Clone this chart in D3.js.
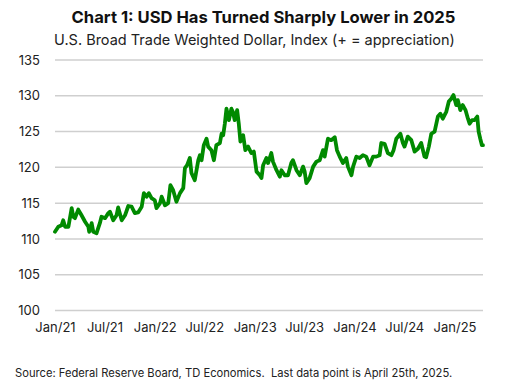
<!DOCTYPE html>
<html>
<head>
<meta charset="utf-8">
<script src="https://cdn.jsdelivr.net/npm/d3@7"></script>
<style>
  html, body { margin: 0; padding: 0; background: #fff; }
  svg { display: block; font-family: Inter, Roboto, "Noto Sans", sans-serif; }
</style>
</head>
<body>
<svg id="chart" width="517" height="385"></svg>
<script>
const title = "Chart 1: USD Has Turned Sharply Lower in 2025";
const subtitle = "U.S. Broad Trade Weighted Dollar, Index (+ = appreciation)";
const source = "Source: Federal Reserve Board, TD Economics.  Last data point is April 25th, 2025.";

const yTicks = [100, 105, 110, 115, 120, 125, 130, 135];
const xTickDates = ["2021-01-01","2021-07-01","2022-01-01","2022-07-01","2023-01-01","2023-07-01","2024-01-01","2024-07-01","2025-01-01"];
const xTickLabels = ["Jan/21","Jul/21","Jan/22","Jul/22","Jan/23","Jul/23","Jan/24","Jul/24","Jan/25"];

const dates = [
"2021-01-01","2021-01-13","2021-01-25","2021-01-31","2021-02-07","2021-02-19","2021-03-03","2021-03-09","2021-03-15","2021-03-27",
"2021-04-08","2021-04-21","2021-05-03","2021-05-06","2021-05-15","2021-05-21","2021-06-02","2021-06-14","2021-06-20","2021-07-03",
"2021-07-15","2021-07-21","2021-08-02","2021-08-14","2021-08-20","2021-09-02","2021-09-14","2021-09-26","2021-10-08","2021-10-20",
"2021-11-01","2021-11-14","2021-11-22","2021-12-02","2021-12-10","2021-12-20","2022-01-01","2022-01-07","2022-01-20","2022-01-26",
"2022-02-07","2022-02-19","2022-02-27","2022-03-09","2022-03-21","2022-04-03","2022-04-15","2022-04-21","2022-04-29","2022-05-09",
"2022-05-15","2022-05-27","2022-06-09","2022-06-15","2022-06-21","2022-06-29","2022-07-09","2022-07-15","2022-07-27","2022-08-05",
"2022-08-14","2022-08-27","2022-09-02","2022-09-08","2022-09-14","2022-09-20","2022-09-29","2022-10-08","2022-10-14","2022-10-20",
"2022-10-29","2022-11-04","2022-11-10","2022-11-20","2022-11-28","2022-12-08","2022-12-20","2022-12-29","2023-01-08","2023-01-20",
"2023-01-26","2023-02-01","2023-02-13","2023-02-19","2023-03-03","2023-03-09","2023-03-22","2023-04-03","2023-04-09","2023-04-21",
"2023-05-03","2023-05-15","2023-05-21","2023-06-03","2023-06-15","2023-06-27","2023-07-03","2023-07-09","2023-07-21","2023-08-03",
"2023-08-15","2023-08-27","2023-09-08","2023-09-14","2023-09-26","2023-10-08","2023-10-21","2023-10-29","2023-11-08","2023-11-20",
"2023-12-02","2023-12-08","2023-12-21","2023-12-27","2024-01-08","2024-01-20","2024-02-01","2024-02-13","2024-02-25","2024-03-09",
"2024-03-21","2024-04-02","2024-04-08","2024-04-20","2024-05-02","2024-05-15","2024-05-23","2024-06-02","2024-06-17","2024-06-26",
"2024-07-02","2024-07-14","2024-07-27","2024-08-08","2024-08-20","2024-09-01","2024-09-13","2024-09-19","2024-09-29","2024-10-08",
"2024-10-20","2024-11-01","2024-11-10","2024-11-19","2024-12-02","2024-12-11","2024-12-20","2024-12-28","2025-01-07","2025-01-13",
"2025-01-22","2025-01-31","2025-02-10","2025-02-19","2025-02-25","2025-03-06","2025-03-15","2025-03-25","2025-03-30","2025-04-05",
"2025-04-11","2025-04-15"
];
const values = [
111.0,111.7,111.9,112.6,111.7,111.7,114.3,113.1,112.9,114.1,
113.3,112.4,111.7,111.0,112.2,111.0,110.8,112.2,113.1,112.9,
113.6,113.8,112.6,113.3,114.4,112.6,113.3,114.6,114.5,113.6,
113.7,114.5,116.4,115.9,116.4,115.7,115.4,114.3,115.0,115.9,
114.7,115.0,117.5,116.8,115.2,116.4,117.1,119.9,120.3,121.3,
119.2,118.2,121.0,121.7,121.0,123.1,124.0,122.9,122.4,121.0,
123.1,123.4,124.7,124.5,126.1,128.2,126.6,128.2,127.7,126.6,
128.0,126.1,123.6,124.5,122.4,122.9,122.0,122.2,119.4,118.9,
118.5,120.3,121.3,120.6,122.0,120.8,119.6,118.7,119.6,118.9,
118.9,120.6,121.0,119.6,118.9,120.1,119.4,117.8,118.5,120.1,
120.8,121.0,122.4,121.5,124.0,123.8,124.2,122.4,121.5,120.6,
121.3,120.1,118.9,120.1,121.5,121.3,121.7,121.5,120.3,121.5,
121.5,121.7,123.4,123.3,122.0,121.7,122.4,124.0,124.7,123.4,
122.9,124.3,123.8,122.2,122.6,123.4,121.5,121.4,122.9,124.7,
125.0,127.1,127.5,126.8,127.8,129.2,129.6,130.1,128.7,129.4,
128.0,128.7,128.0,126.8,126.1,126.6,126.6,127.1,125.0,124.0,
123.1,123.1
];

const parse = d3.timeParse("%Y-%m-%d");
const data = dates.map((d, i) => ({ date: parse(d), value: values[i] }));

const svg = d3.select("#chart");
const plotLeft = 55, plotRight = 483, plotTop = 60, plotBottom = 310.5;

const x = d3.scaleTime()
  .domain([parse("2021-01-01"), parse("2025-04-15")])
  .range([plotLeft, plotRight]);
const y = d3.scaleLinear().domain([100, 135]).range([plotBottom, plotTop]);

// Titles
svg.append("text").attr("x", 263.5).attr("y", 22.5)
  .attr("text-anchor", "middle").attr("font-size", 16.6).attr("font-weight", 700)
  .attr("fill", "#111").text(title);
svg.append("text").attr("x", 254.5).attr("y", 44.5)
  .attr("text-anchor", "middle").attr("font-size", 14.5)
  .attr("fill", "#222").text(subtitle);

// Gridlines
svg.append("g").selectAll("line").data(yTicks).join("line")
  .attr("x1", plotLeft).attr("x2", plotRight)
  .attr("y1", d => y(d)).attr("y2", d => y(d))
  .attr("stroke", "#cfcfcf").attr("stroke-width", 1.5);

// Y axis labels
const yAxis = d3.axisLeft(y).tickValues(yTicks).tickSize(0).tickPadding(0);
const gy = svg.append("g").attr("transform", `translate(40,0)`).call(yAxis);
gy.select(".domain").remove();
gy.selectAll("text").attr("font-size", 13).attr("fill", "#222")
  .attr("font-family", "Inter, Roboto, sans-serif");

// X axis labels
const xAxis = d3.axisBottom(x).tickValues(xTickDates.map(parse))
  .tickFormat((d, i) => xTickLabels[i]).tickSize(0).tickPadding(0);
const gx = svg.append("g").attr("transform", `translate(0,${plotBottom + 12})`).call(xAxis);
gx.select(".domain").remove();
gx.selectAll("text").attr("font-size", 13).attr("fill", "#222")
  .attr("font-family", "Inter, Roboto, sans-serif");

// Line
const line = d3.line().x(d => x(d.date)).y(d => y(d.value));
svg.append("path").datum(data)
  .attr("d", line).attr("fill", "none")
  .attr("stroke", "#008a00").attr("stroke-width", 3.8)
  .attr("stroke-linejoin", "round").attr("stroke-linecap", "round");

// Source
svg.append("text").attr("x", 15).attr("y", 377)
  .style("white-space", "pre")
  .attr("font-size", 11.2).attr("fill", "#222").text(source);
</script>
</body>
</html>
